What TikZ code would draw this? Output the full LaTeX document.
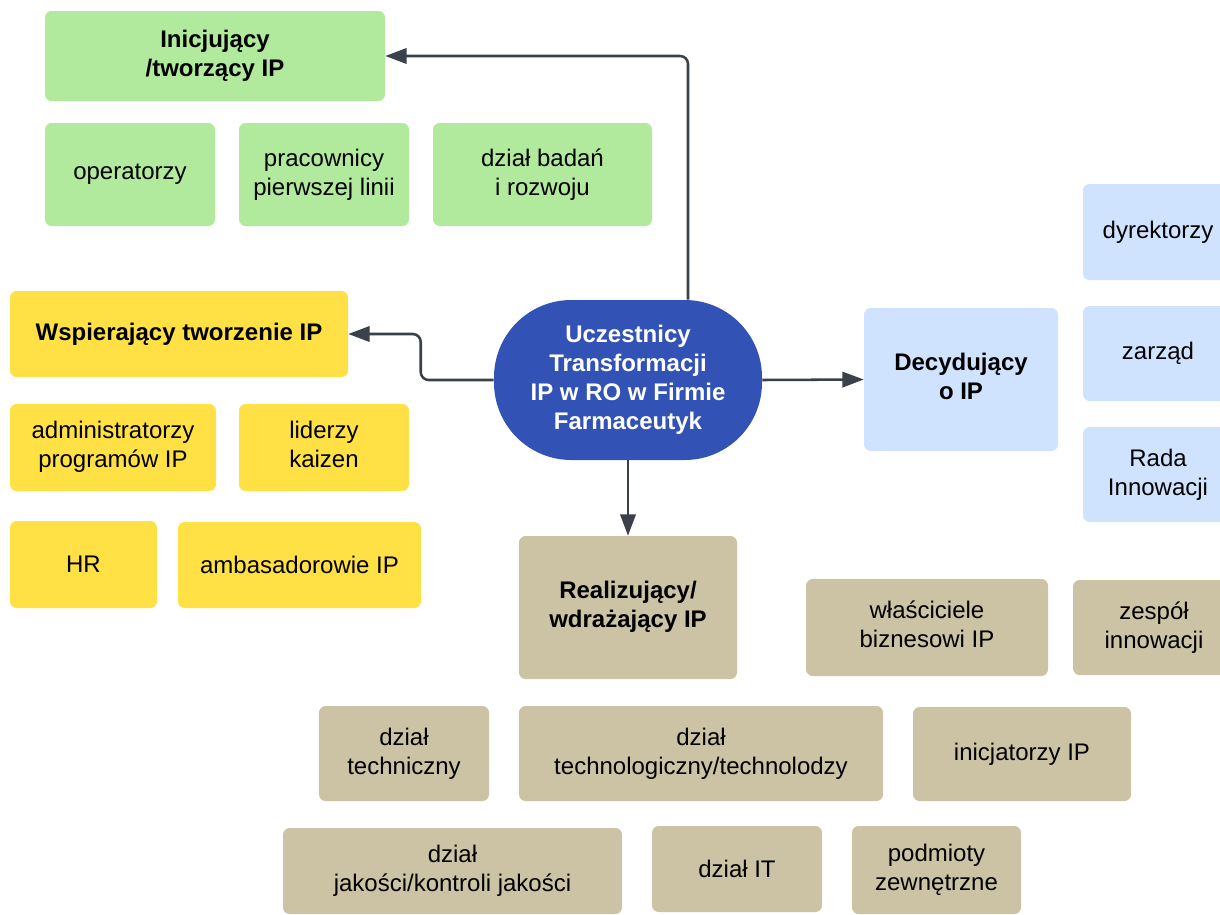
\documentclass[tikz,border=0pt]{standalone}
\usepackage{fontspec}
\setmainfont{Liberation Sans}
\usetikzlibrary{arrows.meta}

\definecolor{grn}{HTML}{B2EA9D}
\definecolor{ylw}{HTML}{FFE145}
\definecolor{blu}{HTML}{CFE3FF}
\definecolor{tan}{HTML}{CBC3A3}
\definecolor{hub}{HTML}{3253B5}
\definecolor{wire}{HTML}{3A414A}

% centred block of lines, lifted by #1
\newcommand{\liftlines}[2]{\raisebox{#1}{\begin{tabular}{@{}c@{}}#2\end{tabular}}}

\tikzset{
  sz/.style 2 args={minimum width=#1*0.75pt, minimum height=#2*0.75pt},
  card/.style={rectangle, rounded corners=5pt, inner sep=0pt, align=center,
    font=\fontsize{18pt}{21.5pt}\selectfont, text=black},
  gcard/.style={card, fill=grn},
  ycard/.style={card, fill=ylw},
  bcard/.style={card, fill=blu},
  tcard/.style={card, fill=tan},
  head/.style={font=\fontsize{18pt}{21.5pt}\selectfont\bfseries},
  hubnode/.style={rectangle, rounded corners=58pt, fill=hub, text=white, inner sep=0pt,
    align=center, font=\fontsize{18pt}{21.8pt}\selectfont\bfseries},
  conn/.style={draw=wire, line width=1.9pt, rounded corners=6pt,
    -{Triangle[length=16pt,width=11.5pt]}}
}

\begin{document}
\begin{tikzpicture}[x=0.75pt,y=-0.75pt]
\useasboundingbox (0,0) rectangle (1220,914);
\clip (0,0) rectangle (1220,914);

% hub
\node[hubnode, sz={268}{160}] (ctr) at (628,380)
  {\liftlines{3pt}{Uczestnicy\\Transformacji\\IP w RO w Firmie\\Farmaceutyk}};

% initiating / creating
\node[gcard, head, sz={340}{90}] (ini) at (215,56) {Inicjujący\\/tworzący IP};
\node[gcard, sz={170}{103}] (oper) at (130,174.5) {operatorzy};
\node[gcard, sz={170}{103}] (prac) at (324,174.5) {pracownicy\\pierwszej linii};
\node[gcard, sz={219}{103}] (badan) at (542.5,174.5) {dział badań\\i rozwoju};

% supporting
\node[ycard, head, sz={338}{86}] (wsp) at (179,334) {Wspierający tworzenie IP};
\node[ycard, sz={206}{87}] (admin) at (113,447.5) {\liftlines{1pt}{administratorzy\\programów IP}};
\node[ycard, sz={170}{87}] (lider) at (324,447.5) {\liftlines{1pt}{liderzy\\kaizen}};
\node[ycard, sz={147}{87}] (hr) at (83.5,564.5) {HR};
\node[ycard, sz={243}{86}] (amb) at (299.5,565) {ambasadorowie IP};

% deciding
\node[bcard, head, sz={194}{143}] (dec) at (961,379.5) {\liftlines{4pt}{Decydujący\\o IP}};
\node[bcard, sz={150}{96}] (dyr) at (1158,232) {dyrektorzy};
\node[bcard, sz={150}{95}] (zarz) at (1158,353.5) {zarząd};
\node[bcard, sz={150}{95}] (rada) at (1158,474.5) {Rada\\Innowacji};

% implementing
\node[tcard, head, sz={218}{143}] (real) at (628,607.5) {\liftlines{2.5pt}{Realizujący/\\wdrażający IP}};
\node[tcard, sz={242}{97}] (wlasc) at (927,627.5) {\liftlines{2pt}{właściciele\\biznesowi IP}};
\node[tcard, sz={162}{95}] (zesp) at (1154,627.5) {zespół\\innowacji};
\node[tcard, sz={170}{95}] (tech) at (404,753.5) {dział\\techniczny};
\node[tcard, sz={364}{95}] (techno) at (701,753.5) {dział\\technologiczny/technolodzy};
\node[tcard, sz={218}{94}] (inic) at (1022,754) {inicjatorzy IP};
\node[tcard, sz={339}{86}] (jak) at (452.5,871) {dział\\jakości/kontroli jakości};
\node[tcard, sz={170}{86}] (it) at (737,869) {dział IT};
\node[tcard, sz={169}{88}] (podm) at (936.5,870) {podmioty\\zewnętrzne};

% connectors
\draw[conn] ([xshift=45pt]ctr.north) |- (ini.east);
\draw[conn] (ctr.west) -- ++(-73,0) |- (wsp.east);
\draw[conn] (ctr.east) -- (dec.west);
\draw[conn] (ctr.south) -- (real.north);
\end{tikzpicture}
\end{document}
